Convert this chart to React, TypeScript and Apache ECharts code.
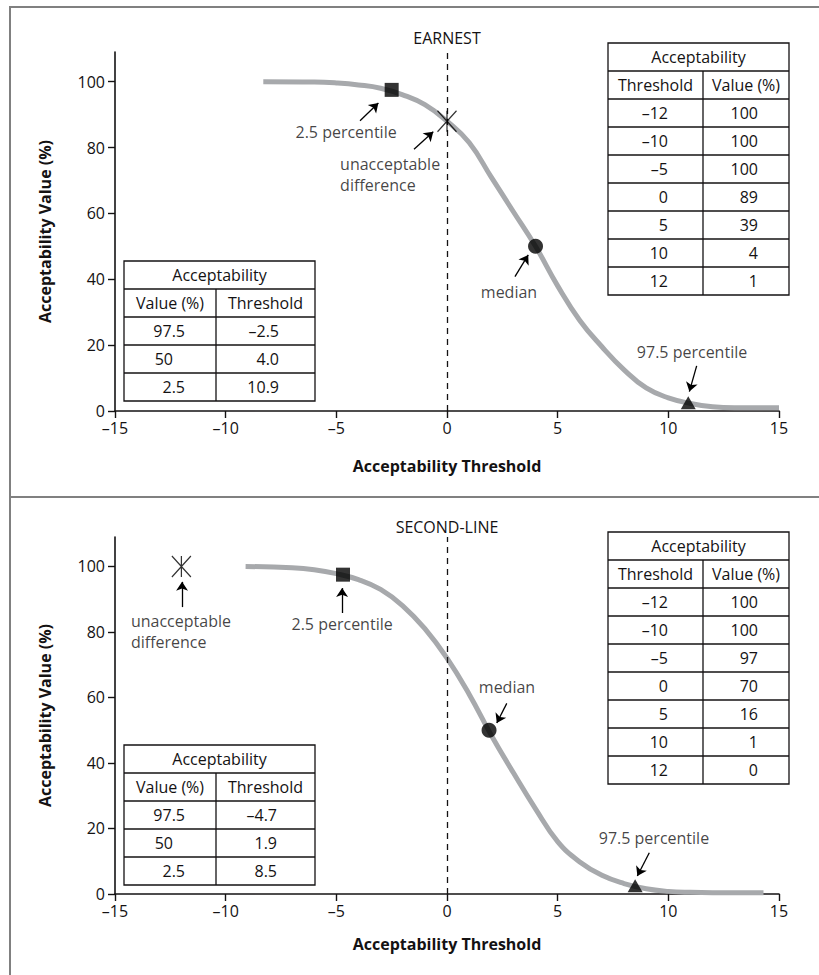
import React, { useEffect, useRef } from "react";
import * as echarts from "echarts";

// ---------- data ----------
const topCurveX = [-8.3, -6, -5, -4, -3, -2, -1, 0, 1, 2, 3, 4, 5, 6, 7, 8, 9, 10, 11, 12, 13, 15];
const topCurveY = [100, 99.9, 99.6, 99, 98, 96, 93, 88, 81.5, 71, 60.5, 50, 38, 27.5, 19.5, 12.5, 7, 4, 2.3, 1.3, 1, 1];
const botCurveX = [-9.1, -7, -6, -5, -4, -3, -2, -1, 0, 1, 2, 3, 4, 5, 6, 7, 8, 9, 10, 11, 12, 14.3];
const botCurveY = [100, 99.6, 99, 97.8, 96, 93, 88, 81, 72, 61, 48.5, 37, 26, 16, 9.8, 5.7, 3.2, 1.6, 0.8, 0.5, 0.4, 0.4];

const tableThresholds = [-12, -10, -5, 0, 5, 10, 12];
const topTableValues = [100, 100, 100, 89, 39, 4, 1];
const botTableValues = [100, 100, 97, 70, 16, 1, 0];

const pctValues = [97.5, 50, 2.5];
const topPctThresholds = [-2.5, 4.0, 10.9];
const botPctThresholds = [-4.7, 1.9, 8.5];

const topUnacceptable = [0, 88];
const botUnacceptable = [-12, 100];

const panelTitles = ["EARNEST", "SECOND-LINE"];
const yTicks = [0, 20, 40, 60, 80, 100];

// ---------- annotations (positions in data space) ----------
const topNotes = [
  { text: "2.5 percentile", x: -4.56, y: 84.7, align: "center" },
  { text: "unacceptable\ndifference", x: -4.83, y: 71.8, align: "left" },
  { text: "median", x: 2.8, y: 36.1, align: "center" },
  { text: "97.5 percentile", x: 11.07, y: 17.9, align: "center" },
];
const topArrows = [
  [-3.93, 88.1, -3.1, 93.5],
  [-1.49, 79.5, -0.62, 84.8],
  [3.07, 40.8, 3.67, 47.4],
  [11.28, 13.7, 10.95, 5.9],
];
const botNotes = [
  { text: "unacceptable\ndifference", x: -14.28, y: 80.2, align: "left" },
  { text: "2.5 percentile", x: -4.74, y: 82.4, align: "center" },
  { text: "median", x: 2.71, y: 63.2, align: "center" },
  { text: "97.5 percentile", x: 9.35, y: 17.1, align: "center" },
];
const botArrows = [
  [-11.97, 87.6, -11.97, 95.3],
  [-4.74, 85.8, -4.74, 93.4],
  [2.7, 58.2, 2.25, 52.2],
  [9.14, 12.6, 8.6, 5.5],
];

const INK = "#141213";
const GRAYLINE = "#a7a9ac";
const FONT = "'Open Sans', sans-serif";
const FS = 16;
const FW = 500;

const fmtNum = (v: number, digits = 0) => {
  const s = Math.abs(v).toFixed(digits);
  return v < 0 ? "\u2013" + s : s;
};

function txt(x: number, y: number, text: string, align = "center", bold = false) {
  return {
    type: "text",
    x,
    y,
    silent: true,
    z: 20,
    style: {
      text,
      fill: INK,
      fontSize: FS,
      fontFamily: FONT,
      fontWeight: bold ? "bold" : FW,
      align,
      verticalAlign: "middle",
      textAlign: align,
      textVerticalAlign: "middle",
    },
  };
}

function hline(x1: number, x2: number, y: number, color = INK, w = 1.3) {
  return { type: "line", silent: true, z: 19, shape: { x1, y1: y, x2, y2: y }, style: { stroke: color, lineWidth: w } };
}
function vline(x: number, y1: number, y2: number, color = INK, w = 1.3) {
  return { type: "line", silent: true, z: 19, shape: { x1: x, y1, x2: x, y2 }, style: { stroke: color, lineWidth: w } };
}

function buildTable(
  x: number,
  y: number,
  w1: number,
  w2: number,
  heads: string[],
  col1: string[],
  col2: string[],
  right1: (i: number) => number,
  right2: (i: number) => number
) {
  const rh = 28;
  const n = col1.length;
  const H = rh * (n + 2);
  const els: any[] = [];
  els.push({
    type: "rect",
    silent: true,
    z: 18,
    shape: { x, y, width: w1 + w2, height: H },
    style: { fill: "#fff", stroke: INK, lineWidth: 1.3 },
  });
  for (let k = 1; k <= n + 1; k++) els.push(hline(x, x + w1 + w2, y + rh * k));
  els.push(vline(x + w1, y + rh, y + H));
  els.push(txt(x + (w1 + w2) / 2, y + rh / 2, "Acceptability"));
  els.push(txt(x + w1 / 2, y + rh * 1.5, heads[0]));
  els.push(txt(x + w1 + w2 / 2, y + rh * 1.5, heads[1]));
  for (let i = 0; i < n; i++) {
    const cy = y + rh * (2.5 + i);
    els.push(txt(right1(i), cy, col1[i], "right"));
    els.push(txt(right2(i), cy, col2[i], "right"));
  }
  return els;
}

const axisText = { color: INK, fontSize: FS, fontFamily: FONT, fontWeight: FW };

function makeX(gridIndex: number, nameGap: number) {
  return {
    type: "value",
    gridIndex,
    min: -15,
    max: 15,
    interval: 5,
    axisLine: { show: true, onZero: false, lineStyle: { color: INK, width: 1.6 } },
    axisTick: { show: true, inside: false, length: 7, lineStyle: { color: INK, width: 1.4 } },
    axisLabel: { ...axisText, margin: 9, formatter: (v: number) => fmtNum(v) },
    splitLine: { show: false },
    name: "Acceptability Threshold",
    nameLocation: "middle",
    nameGap,
    nameTextStyle: { ...axisText, fontWeight: "bold" },
  };
}
function makeY(gridIndex: number) {
  return {
    type: "value",
    gridIndex,
    min: 0,
    max: 109,
    axisLine: { show: true, onZero: false, lineStyle: { color: INK, width: 1.6 } },
    axisTick: { show: true, inside: false, length: 7, customValues: yTicks, lineStyle: { color: INK, width: 1.4 } },
    axisLabel: { ...axisText, margin: 10, customValues: yTicks },
    splitLine: { show: false },
    name: "Acceptability Value (%)",
    nameLocation: "middle",
    nameGap: 62,
    nameRotate: 90,
    nameTextStyle: { ...axisText, fontWeight: "bold" },
  };
}

const xMarker = "path://M0,0L20,22M20,0L0,22M10,0L10,22";

function panelSeries(
  idx: number,
  cx: number[],
  cy: number[],
  unacc: number[],
  lo: number,
  med: number,
  hi: number,
  notes: any[],
  arrows: number[][]
) {
  return [
    {
      type: "line",
      xAxisIndex: idx,
      yAxisIndex: idx,
      data: cx.map((x, i) => [x, cy[i]]),
      smooth: 0.45,
      showSymbol: false,
      silent: true,
      lineStyle: { color: GRAYLINE, width: 5 },
      z: 2,
      markLine: {
        silent: true,
        symbol: "none",
        label: { show: false },
        lineStyle: { type: [6, 5], color: INK, width: 1.3 },
        data: [{ xAxis: 0 }],
      },
    },
    {
      type: "scatter",
      xAxisIndex: idx,
      yAxisIndex: idx,
      silent: true,
      z: 6,
      data: [
        { value: [lo, pctValues[0]], symbol: "rect", symbolSize: 14, itemStyle: { color: "#000" } },
        { value: [med, pctValues[1]], symbol: "circle", symbolSize: 15, itemStyle: { color: "#000" } },
        { value: [hi, pctValues[2]], symbol: "triangle", symbolSize: [15, 13], itemStyle: { color: "#000" } },
        {
          value: unacc,
          symbol: xMarker,
          symbolSize: [19, 21],
          itemStyle: { color: "rgba(0,0,0,0)", borderColor: "#000", borderWidth: 1.3 },
        },
      ],
    },
    {
      type: "scatter",
      xAxisIndex: idx,
      yAxisIndex: idx,
      silent: true,
      z: 7,
      symbolSize: 1,
      itemStyle: { color: "rgba(0,0,0,0)" },
      data: notes.map((n) => ({
        value: [n.x, n.y],
        label: {
          show: true,
          position: "inside",
          formatter: n.text,
          align: n.align,
          verticalAlign: "middle",
          color: INK,
          fontSize: FS,
          fontFamily: FONT,
          fontWeight: FW,
          lineHeight: 21,
        },
      })),
      markLine: {
        silent: true,
        symbol: ["none", "arrow"],
        symbolSize: 9,
        label: { show: false },
        lineStyle: { type: "solid", color: "#000", width: 1.3 },
        itemStyle: { color: "#000" },
        data: arrows.map((a) => [{ coord: [a[0], a[1]] }, { coord: [a[2], a[3]] }]),
      },
    },
  ];
}

export default function App() {
  const ref = useRef<HTMLDivElement>(null);
  useEffect(() => {
    if (!ref.current) return;
    const chart = echarts.init(ref.current, null, { renderer: "svg" });
    const thr = tableThresholds.map((v) => fmtNum(v));
    const graphic: any[] = [
      hline(10, 819, 7, "#808080", 2),
      vline(10, 6, 975, "#808080", 2),
      hline(10, 819, 497, "#808080", 2),
      txt(447, 38, panelTitles[0]),
      txt(447, 527, panelTitles[1]),
      ...buildTable(608, 43, 95, 86, ["Threshold", "Value (%)"], thr, topTableValues.map((v) => String(v)), () => 668, () => 758),
      ...buildTable(608, 532, 95, 86, ["Threshold", "Value (%)"], thr, botTableValues.map((v) => String(v)), () => 668, () => 758),
      ...buildTable(
        124, 261, 92, 99, ["Value (%)", "Threshold"],
        pctValues.map((v) => String(v)), topPctThresholds.map((v) => fmtNum(v, 1)),
        (i) => (Number.isInteger(pctValues[i]) ? 173 : 185), () => 279
      ),
      ...buildTable(
        124, 745, 92, 99, ["Value (%)", "Threshold"],
        pctValues.map((v) => String(v)), botPctThresholds.map((v) => fmtNum(v, 1)),
        (i) => (Number.isInteger(pctValues[i]) ? 173 : 185), () => 277
      ),
    ];
    chart.setOption({
      animation: false,
      backgroundColor: "#fff",
      textStyle: { fontFamily: FONT },
      grid: [
        { left: 115, width: 664, top: 52, height: 359, containLabel: false },
        { left: 115, width: 664, top: 537, height: 357, containLabel: false },
      ],
      xAxis: [makeX(0, 47), makeX(1, 42)],
      yAxis: [makeY(0), makeY(1)],
      series: [
        ...panelSeries(0, topCurveX, topCurveY, topUnacceptable, topPctThresholds[0], topPctThresholds[1], topPctThresholds[2], topNotes, topArrows),
        ...panelSeries(1, botCurveX, botCurveY, botUnacceptable, botPctThresholds[0], botPctThresholds[1], botPctThresholds[2], botNotes, botArrows),
      ],
      graphic,
    });
    return () => chart.dispose();
  }, []);
  return (
    <div
      ref={ref}
      style={{ position: "absolute", left: 0, top: 0, width: 819, height: 975 }}
    />
  );
}
